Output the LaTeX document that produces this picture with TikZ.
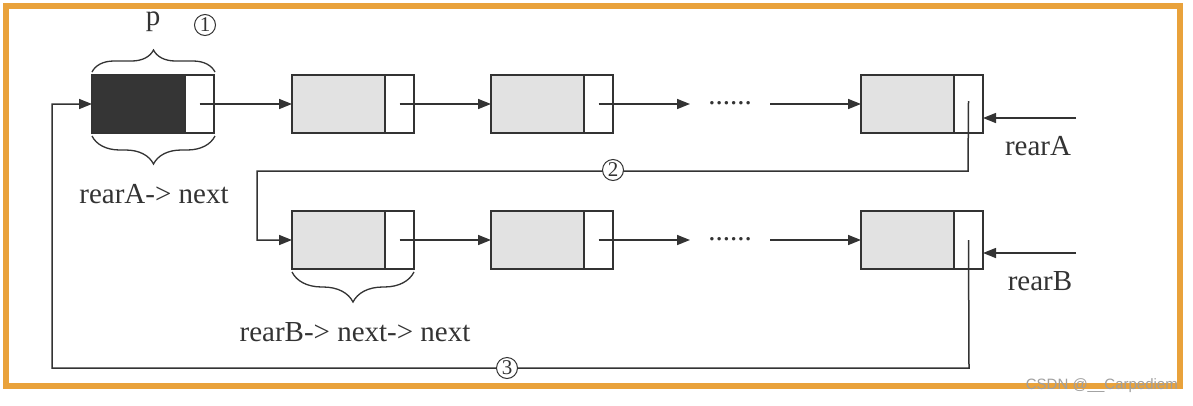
\documentclass[tikz,border=0pt]{standalone}
\usepackage{fontspec}
\setmainfont{Liberation Serif}
\newfontfamily\wmfont{Liberation Sans}
\usetikzlibrary{arrows.meta,decorations.pathreplacing,calc}
\definecolor{frameorange}{HTML}{E9A23B}
\definecolor{cellgray}{HTML}{E2E2E2}
\definecolor{cellblack}{HTML}{353535}
\definecolor{inkc}{HTML}{333333}
\tikzset{
  ln/.style={line width=1.5pt, draw=inkc},
  datacell/.style={ln, fill=cellgray, minimum width=93pt, minimum height=58pt, inner sep=0pt, outer sep=0pt, anchor=north west},
  blackcell/.style={datacell, fill=cellblack},
  ptrcell/.style={ln, fill=white, minimum width=29pt, minimum height=58pt, inner sep=0pt, outer sep=0pt, anchor=west},
  link/.style={ln, -{Triangle[length=13pt,width=10pt]}},
  lbl/.style={font=\fontsize{29}{34}\selectfont, text=inkc, inner sep=0pt, anchor=base},
  num/.style={circle, draw=inkc, line width=1pt, fill=white, inner sep=0.8pt, minimum size=21pt, font=\fontsize{21}{24}\selectfont, text=inkc},
  brc/.style={ln, line width=1.3pt, decorate, decoration={brace, amplitude=#1}}
}
\begin{document}
\begin{tikzpicture}[x=1pt,y=-1pt]
\useasboundingbox (0,0) rectangle (1193,405);
\fill[white] (0,0) rectangle (1193,405);
\draw[frameorange, line width=6pt] (6,6) rectangle (1180,386);

% row A
\node[blackcell] (a1d) at (92,75) {};
\node[ptrcell] (a1p) at (a1d.east) {};
\node[datacell] (a2d) at (292,75) {};
\node[ptrcell] (a2p) at (a2d.east) {};
\node[datacell] (a3d) at (491,75) {};
\node[ptrcell] (a3p) at (a3d.east) {};
\node[datacell] (a4d) at (861,75) {};
\node[ptrcell] (a4p) at (a4d.east) {};

% row B
\node[datacell] (b1d) at (292,211) {};
\node[ptrcell] (b1p) at (b1d.east) {};
\node[datacell] (b2d) at (491,211) {};
\node[ptrcell] (b2p) at (b2d.east) {};
\node[datacell] (b4d) at (861,211) {};
\node[ptrcell] (b4p) at (b4d.east) {};

% dots
\node[lbl] (dotsA) at (730,104) {......};
\node[lbl] (dotsB) at (730,240) {......};
\coordinate (dA1) at (690,104);
\coordinate (dA2) at (770,104);
\coordinate (dB1) at (690,240);
\coordinate (dB2) at (770,240);

% links row A
\draw[link] (a1p.center) -- (a2d.west);
\draw[link] (a2p.center) -- (a3d.west);
\draw[link] (a3p.center) -- (dA1);
\draw[link] (dA2) -- (a4d.west);
% links row B
\draw[link] (b1p.center) -- (b2d.west);
\draw[link] (b2p.center) -- (dB1);
\draw[link] (dB2) -- (b4d.west);

% connector 2
\coordinate (c2a) at (968,171);
\coordinate (c2b) at (257,171);
\draw[link] ($(a4p.center)+(0,-3)$) -- (c2a) -- (c2b) -- (c2b |- b1d.west) -- (b1d.west);
\node[num] (n2) at (613,170) {2};

% connector 3
\coordinate (c3a) at (969,368);
\coordinate (c3b) at (52,368);
\draw[link] (b4p.center) -- (c3a) -- (c3b) -- (c3b |- a1d.west) -- (a1d.west);
\node[num] (n3) at (507,368) {3};

% rear pointers
\coordinate (ra) at (1076,118);
\coordinate (rb) at (1076,253);
\draw[link] (ra) -- (ra -| a4p.east);
\draw[link] (rb) -- (rb -| b4p.east);
\node[lbl] (rearA) at (1038,155) {rearA};
\node[lbl] (rearB) at (1040,290) {rearB};

% braces
\draw[brc=22pt] (92,72) -- (215,72);
\draw[brc=28pt] (215,136) -- (92,136);
\draw[brc=30pt] (414,272) -- (292,272);

\node[lbl] (p) at (153,25) {p};
\node[num, fill=none] (n1) at (205,25) {1};
\node[lbl] (rAn) at (154,203) {rearA-> next};
\node[lbl] (rBnn) at (355,341) {rearB-> next-> next};

% watermark
\node[font=\wmfont\fontsize{15}{17}\selectfont, text=gray!75, anchor=base east, inner sep=0pt] (wm) at (1178,389) {CSDN @\_\_Carpediem};
\end{tikzpicture}
\end{document}
